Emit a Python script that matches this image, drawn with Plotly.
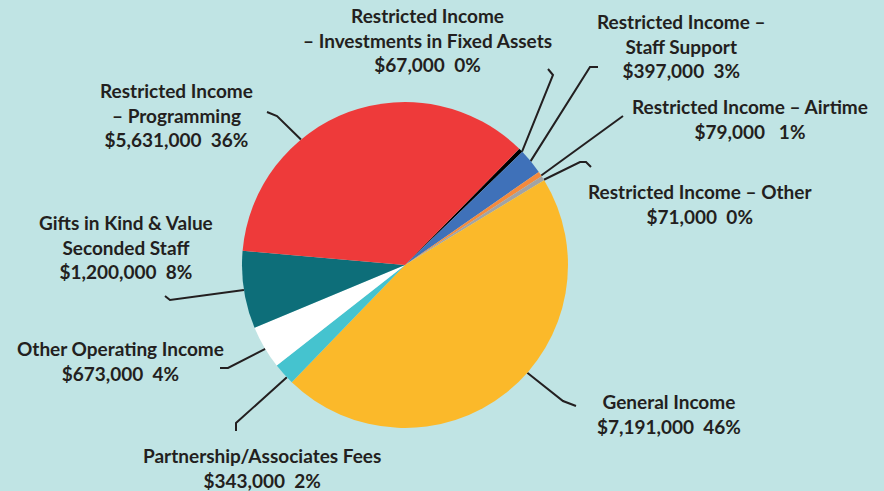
import math
import plotly.graph_objects as go

# ---- data ----
categories = [
    "Restricted Income – Investments in Fixed Assets",
    "Restricted Income – Staff Support",
    "Restricted Income – Airtime",
    "Restricted Income – Other",
    "General Income",
    "Partnership/Associates Fees",
    "Other Operating Income",
    "Gifts in Kind & Value Seconded Staff",
    "Restricted Income – Programming",
]
amounts = [67000, 397000, 79000, 71000, 7191000, 343000, 673000, 1200000, 5631000]
percent_labels = ["0%", "3%", "1%", "0%", "46%", "2%", "4%", "8%", "36%"]
label_lines = [
    ["Restricted Income", "– Investments in Fixed Assets"],
    ["Restricted Income –", "Staff Support"],
    ["Restricted Income – Airtime"],
    ["Restricted Income – Other"],
    ["General Income"],
    ["Partnership/Associates Fees"],
    ["Other Operating Income"],
    ["Gifts in Kind & Value", "Seconded Staff"],
    ["Restricted Income", "– Programming"],
]
amount_sep = ["  ", "  ", "   ", "  ", "  ", "  ", "  ", "  ", "  "]

# ---- style / layout ----
colors = ["#000000", "#3f71b9", "#f48a3c", "#a3a3a3", "#fbb92a",
          "#45c3cf", "#ffffff", "#0d6e79", "#ee3a3a"]
BG = "#c0e4e4"
INK = "#231f20"
W, H = 884, 491
CX, CY, R = 405, 265, 163
ROT = 44.5

# label placement (pixel centre of text block) and leader line elbows
label_pos = [(427, 40), (681, 46), (750, 119), (700, 204), (669, 414),
             (262, 468), (120, 361), (126, 247), (176, 115)]
tip_frac = [0.9, 0.48, 0.84, 0.9, 0.44, 0.31, 0.46, 0.5, 0.35]
elbows = [
    [(553, 75), (548, 69)],
    [(590, 67), (598, 67)],
    [(623, 116)],
    [(580, 162), (586, 162), (591, 167)],
    [(563, 401), (576, 406)],
    [(236, 423), (236, 431)],
    [(228, 368), (220, 368)],
    [(170, 300), (165, 296)],
    [(277, 116), (267, 112)],
]

fig = go.Figure()
fig.add_trace(go.Pie(
    values=amounts, labels=categories, sort=False, direction="clockwise",
    rotation=ROT, marker=dict(colors=colors, line=dict(width=0)),
    textinfo="none", hoverinfo="skip", showlegend=False,
    domain=dict(x=[(CX - R) / W, (CX + R) / W],
                y=[(H - CY - R) / H, (H - CY + R) / H]),
))

total = sum(amounts)
start = ROT
for i, v in enumerate(amounts):
    span = v / total * 360
    ang = math.radians(start + span * tip_frac[i])
    start += span
    tx = CX + R * math.sin(ang)
    ty = CY - R * math.cos(ang)
    pts = [(tx, ty)] + elbows[i]
    fig.add_trace(go.Scatter(
        x=[p[0] for p in pts], y=[p[1] for p in pts], mode="lines",
        line=dict(color=INK, width=2), hoverinfo="skip", showlegend=False,
    ))
    text = "<br>".join(label_lines[i] + [f"${v:,}{amount_sep[i]}{percent_labels[i]}".replace(" ", "&nbsp;")])
    fig.add_annotation(x=label_pos[i][0], y=label_pos[i][1], xref="x", yref="y",
                       text=text, showarrow=False, align="center",
                       xanchor="center", yanchor="middle",
                       font=dict(family="Lato", size=19, color=INK, weight=700))

fig.update_layout(
    width=W, height=H, margin=dict(l=0, r=0, t=0, b=0),
    paper_bgcolor=BG, plot_bgcolor=BG,
    xaxis=dict(range=[0, W], visible=False, domain=[0, 1], fixedrange=True),
    yaxis=dict(range=[H, 0], visible=False, domain=[0, 1], fixedrange=True),
)
fig.write_html("out.html", config={"displayModeBar": False},
               post_script="document.body.style.margin='0';document.body.style.padding='0';document.body.style.background='" + BG + "';")
